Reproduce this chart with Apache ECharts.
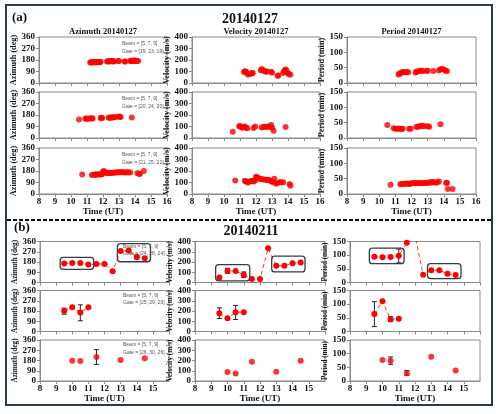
<!DOCTYPE html>
<html><head><meta charset="utf-8">
<script src="https://cdn.jsdelivr.net/npm/echarts@6/dist/echarts.min.js"></script>
<style>html,body{margin:0;padding:0;background:#fff}#c{width:500px;height:414px}</style>
</head><body><div id="c"></div>
<script>
// ---------- DATA ----------
const xTicks = [8, 9, 10, 11, 12, 13, 14, 15, 16];
const dateA = '20140127';
const dateB = '20140211';
const beamLabel = 'Beam = [5, 7, 9]';
const gatesA = ['Gate = [19, 23, 19]', 'Gate = [20, 24, 20]', 'Gate = [21, 25, 21]'];
const gatesB = ['Gate = [24, 28, 24]', 'Gate = [25, 29, 25]', 'Gate = [26, 30, 26]'];

// (a) 20140127 : [time UT, value]
const azA1 = [[11.2,160],[11.25,162],[11.3,161],[11.35,163],[11.4,162],[11.45,164],[11.5,163],[11.55,162],[11.6,164],[11.65,163],[11.7,165],[11.75,163],[11.8,162],[11.85,166],[12.25,168],[12.3,170],[12.35,169],[12.4,171],[12.45,170],[12.5,172],[12.55,170],[12.6,171],[12.65,169],[12.7,171],[12.95,173],[13.0,172],[13.35,168],[13.4,169],[13.7,172],[13.75,174],[13.8,173],[13.85,175],[13.9,174],[13.95,176],[14.0,175],[14.05,174],[14.1,173],[14.2,172]];
const velA1 = [[11.25,95],[11.3,102],[11.35,100],[11.4,92],[11.5,75],[11.55,80],[11.6,78],[11.7,82],[11.75,85],[11.8,88],[12.3,110],[12.35,120],[12.4,115],[12.45,108],[12.55,102],[12.6,98],[12.7,100],[12.95,98],[13.0,90],[13.35,62],[13.4,66],[13.7,88],[13.75,100],[13.8,110],[13.85,118],[13.9,108],[14.0,85],[14.05,78],[14.15,72]];
const perA1 = [[11.2,28],[11.25,30],[11.3,32],[11.4,34],[11.45,35],[11.5,36],[11.6,35],[11.7,36],[11.8,35],[12.25,34],[12.3,37],[12.4,38],[12.5,39],[12.6,40],[12.7,39],[12.95,39],[13.0,40],[13.35,39],[13.7,41],[13.8,45],[13.9,46],[14.0,44],[14.1,41],[14.2,38]];
const azA2 = [[10.5,145],[10.9,150],[10.95,152],[11.0,150],[11.1,153],[11.2,152],[11.3,155],[11.35,153],[11.85,157],[11.9,158],[11.95,156],[12.35,158],[12.4,160],[12.5,159],[12.55,161],[12.6,162],[12.7,163],[12.8,165],[13.0,168],[13.05,166],[13.1,164],[13.8,160]];
const velA2 = [[10.55,55],[10.95,102],[11.0,105],[11.05,96],[11.15,90],[11.25,95],[11.3,100],[11.4,90],[11.45,85],[11.85,88],[11.95,100],[12.35,92],[12.45,96],[12.55,98],[12.65,96],[12.75,100],[12.85,98],[12.95,112],[13.0,90],[13.1,62],[13.85,95]];
const perA2 = [[10.5,42],[10.9,32],[11.0,30],[11.1,30],[11.2,31],[11.3,30],[11.4,29],[11.45,30],[11.85,30],[11.95,30],[12.3,36],[12.4,37],[12.5,38],[12.6,39],[12.7,40],[12.8,38],[13.0,38],[13.1,37],[13.8,45]];
const azA3 = [[10.7,152],[11.3,148],[11.4,150],[11.5,152],[11.55,151],[11.6,153],[11.7,152],[11.75,154],[11.85,155],[11.9,153],[11.95,158],[12.0,175],[12.05,180],[12.1,172],[12.15,166],[12.25,165],[12.35,163],[12.45,166],[12.5,165],[12.6,167],[12.7,166],[12.8,168],[12.9,170],[13.0,170],[13.1,171],[13.2,170],[13.3,170],[13.4,169],[13.5,171],[13.6,170],[13.7,169],[14.15,162],[14.25,158],[14.3,156],[14.55,180]];
const velA3 = [[10.7,118],[11.3,115],[11.35,110],[11.45,105],[11.5,100],[11.6,108],[11.7,112],[11.8,115],[11.85,108],[11.95,118],[12.0,150],[12.05,145],[12.1,140],[12.2,135],[12.3,130],[12.4,128],[12.5,127],[12.6,125],[12.7,122],[12.8,124],[12.9,115],[13.0,108],[13.05,105],[13.15,132],[13.25,90],[13.35,95],[13.5,104],[13.6,100],[13.7,102],[14.1,88],[14.15,72]];
const perA3 = [[10.7,30],[11.3,32],[11.4,33],[11.5,33],[11.6,34],[11.7,33],[11.8,34],[11.9,33],[12.0,35],[12.1,36],[12.2,35],[12.3,36],[12.4,35],[12.5,36],[12.6,35],[12.7,36],[12.8,36],[12.9,37],[13.0,36],[13.1,38],[13.2,37],[13.3,40],[13.4,38],[13.5,37],[13.6,38],[13.7,41],[14.15,36],[14.2,37],[14.25,16],[14.55,16]];

// (b) 20140211
const timesB1 = [9.5, 10, 10.5, 11, 11.5, 12, 12.5, 13, 13.5, 14, 14.5];
const azB1  = [166, 171, 171, 157, 163, 163, 99, 276, 282, 224, 212];
const velB1 = [50, 112, 112, 76, 35, 35, 333, 163, 163, 188, 196];
const perB1 = [94, 92, 93, 98, 145, 175, 28, 45, 45, 32, 27];
const timesB2 = [9.5, 10, 10.5, 11];
const azB2  = [181, 213, 167, 213];
const velB2 = [179, 130, 189, 189];
const perB2 = [64, 111, 44, 47];
const timesB3 = [10, 10.5, 11.5, 13, 14.5];
const azB3  = [178, 176, 210, 184, 199];
const velB3 = [88, 72, 189, 91, 198];
const perB3 = [77, 74, 28, 89, 38];
// error bars [time, low, high]
const errAzB1 = [[14, 205, 240]];
const errVelB1 = [[10, 90, 138], [11, 48, 103]];
const errPerB1 = [[11, 72, 122], [14, 28, 37]];
const errAzB2 = [[9.5, 152, 205], [10.5, 94, 234]];
const errVelB2 = [[9.5, 127, 231], [10.5, 117, 254]];
const errPerB2 = [[9.5, 18, 109], [10.5, 37, 54]];
const errAzB3 = [[11.5, 146, 275]];
const errVelB3 = [];
const errPerB3 = [[10.5, 61, 88], [11.5, 21, 38]];
// highlight boxes [t1, v1, t2, v2]
const boxAzB1 = [[9.25, 116, 11.33, 221], [12.8, 182, 14.85, 342]];
const boxVelB1 = [[9.27, 16, 11.37, 174], [12.72, 103, 14.77, 258]];
const boxPerB1 = [[9.19, 69, 11.33, 126], [12.77, 14.5, 14.83, 69]];

// ---------- LAYOUT ----------
const SERIF = 'Liberation Serif';
const SANS = 'Liberation Sans';
const kinds = [
  {name: 'Azimuth (deg)', max: 360, interval: 90, title: 'Azimuth '},
  {name: 'Velocity (m/s)', max: 400, interval: 100, title: 'Velocity '},
  {name: 'Period (min)', max: 150, interval: 50, title: 'Period '}
];
const colA = [[39, 128], [192, 128], [347, 129]];
const rowA = [37, 92, 148]; const hA = 46;
const colB = [[40, 129], [195, 130], [350, 130]];
const rowB = [241.5, 290.5, 340]; const hB = 41;

const grids = [], xAxes = [], yAxes = [], series = [];
function addPanel(sec, r, c) {
  const gi = grids.length;
  const col = sec === 'a' ? colA[c] : colB[c];
  const top = sec === 'a' ? rowA[r] : rowB[r];
  const h = sec === 'a' ? hA : hB;
  grids.push({left: col[0], top: top, width: col[1], height: h, show: true, borderColor: '#8a8a8a', borderWidth: 1, containLabel: false});
  const bottom = r === 2;
  xAxes.push({type: 'value', gridIndex: gi, min: xTicks[0], max: xTicks[xTicks.length - 1], interval: 1,
    axisLine: {lineStyle: {color: '#8a8a8a'}}, axisTick: {show: true, length: 3, lineStyle: {color: '#8a8a8a'}},
    splitLine: {show: false},
    axisLabel: {show: bottom, margin: 3, fontFamily: SERIF, fontWeight: 'bold', fontSize: 9, color: '#111', showMaxLabel: sec === 'a'},
    name: bottom ? 'Time (UT)' : '', nameLocation: 'middle', nameGap: sec === 'a' ? 11.5 : 10,
    nameTextStyle: {fontFamily: SERIF, fontWeight: 'bold', fontSize: 9, color: '#111'}});
  const k = kinds[c];
  yAxes.push({type: 'value', gridIndex: gi, min: 0, max: k.max, interval: k.interval,
    axisLine: {show: true, lineStyle: {color: '#8a8a8a'}}, axisTick: {show: true, length: 3, lineStyle: {color: '#8a8a8a'}},
    splitLine: {show: false},
    axisLabel: {margin: 4, fontFamily: SERIF, fontWeight: 'bold', fontSize: 9, color: '#111'},
    name: k.name, nameLocation: 'middle', nameGap: 16.5,
    nameTextStyle: {fontFamily: SERIF, fontWeight: 'bold', fontSize: sec === 'a' ? 8.2 : 7.2, color: '#111'}});
  return gi;
}
function scatter(gi, data, size) {
  series.push({type: 'scatter', xAxisIndex: gi, yAxisIndex: gi, data: data, symbolSize: size,
    itemStyle: {color: '#ff0000'}, z: 5});
}
function pairs(t, v) { return t.map((x, i) => [x, v[i]]); }
function dashedLine(gi, data) {
  series.push({type: 'line', xAxisIndex: gi, yAxisIndex: gi, data: data, symbol: 'circle', symbolSize: 6,
    clip: true, itemStyle: {color: '#ff0000'}, lineStyle: {color: '#ff3030', width: 1, type: [4, 3]}, z: 5});
}
function errBars(gi, data) {
  if (!data.length) return;
  series.push({type: 'custom', xAxisIndex: gi, yAxisIndex: gi, data: data, z: 4, silent: true,
    encode: {x: 0, y: [1, 2]},
    renderItem: function (p, api) {
      const x = api.value(0);
      const lo = api.coord([x, api.value(1)]), hi = api.coord([x, api.value(2)]);
      const w = 2.5, st = {stroke: '#222', lineWidth: 1};
      return {type: 'group', children: [
        {type: 'line', shape: {x1: lo[0], y1: lo[1], x2: hi[0], y2: hi[1]}, style: st},
        {type: 'line', shape: {x1: lo[0] - w, y1: lo[1], x2: lo[0] + w, y2: lo[1]}, style: st},
        {type: 'line', shape: {x1: hi[0] - w, y1: hi[1], x2: hi[0] + w, y2: hi[1]}, style: st}]};
    }});
}
function boxes(gi, data) {
  series.push({type: 'custom', xAxisIndex: gi, yAxisIndex: gi, data: data, z: 6, silent: true,
    encode: {x: [0, 2], y: [1, 3]},
    renderItem: function (p, api) {
      const a = api.coord([api.value(0), api.value(3)]), b = api.coord([api.value(2), api.value(1)]);
      return {type: 'rect', shape: {x: a[0], y: a[1], width: b[0] - a[0], height: b[1] - a[1], r: 3},
        style: {fill: 'none', stroke: '#2f3e4e', lineWidth: 1.3}};
    }});
}

const dataA = [[azA1, velA1, perA1], [azA2, velA2, perA2], [azA3, velA3, perA3]];
for (let r = 0; r < 3; r++) for (let c = 0; c < 3; c++) {
  const gi = addPanel('a', r, c);
  scatter(gi, dataA[r][c], 6);
}
const timesB = [timesB1, timesB2, timesB3];
const valsB = [[azB1, velB1, perB1], [azB2, velB2, perB2], [azB3, velB3, perB3]];
const errsB = [[errAzB1, errVelB1, errPerB1], [errAzB2, errVelB2, errPerB2], [errAzB3, errVelB3, errPerB3]];
const boxesB = [boxAzB1, boxVelB1, boxPerB1];
for (let r = 0; r < 3; r++) for (let c = 0; c < 3; c++) {
  const gi = addPanel('b', r, c);
  errBars(gi, errsB[r][c]);
  const d = pairs(timesB[r], valsB[r][c]);
  if (r < 2) dashedLine(gi, d); else scatter(gi, d, 6);
  if (r === 0) boxes(gi, boxesB[c]);
}

// ---------- TEXT / DECORATION ----------
const g = [];
g.push({type: 'rect', shape: {x: 6, y: 5, width: 486, height: 400}, style: {fill: 'none', stroke: '#2b3a4a', lineWidth: 2}, z: 0});
g.push({type: 'line', shape: {x1: 7, y1: 220, x2: 491, y2: 220}, style: {stroke: '#111', lineWidth: 2, lineDash: [4, 2]}});
const bold = (x, y, text, size, align) => ({type: 'text', x: x, y: y, style: {text: text, fontFamily: SERIF, fontWeight: 'bold', fontSize: size, fill: '#111', textAlign: align || 'center', textVerticalAlign: 'middle'}});
g.push(bold(12, 18, '(a)', 13, 'left'));
g.push(bold(14, 228, '(b)', 13, 'left'));
g.push(bold(250, 19.5, dateA, 14));
g.push(bold(251, 231.5, dateB, 14));
for (let c = 0; c < 3; c++) g.push(bold(colA[c][0] + colA[c][1] / 2, 31.5, kinds[c].title + dateA, 8.5));
const small = (x, y, text) => ({type: 'text', x: x, y: y, z: 10, style: {text: text, fontFamily: SANS, fontSize: 5, fill: '#555', textAlign: 'left', textVerticalAlign: 'middle'}});
for (let r = 0; r < 3; r++) {
  g.push(small(122, rowA[r] + 6.5, beamLabel));
  g.push(small(122, rowA[r] + 14.5, gatesA[r]));
  g.push(small(123, rowB[r] + 5, beamLabel));
  g.push(small(123, rowB[r] + 12.5, gatesB[r]));
}

const chart = echarts.init(document.getElementById('c'), null, {renderer: 'canvas'});
chart.setOption({animation: false, backgroundColor: '#fff', grid: grids, xAxis: xAxes, yAxis: yAxes, series: series, graphic: g});
</script></body></html>
